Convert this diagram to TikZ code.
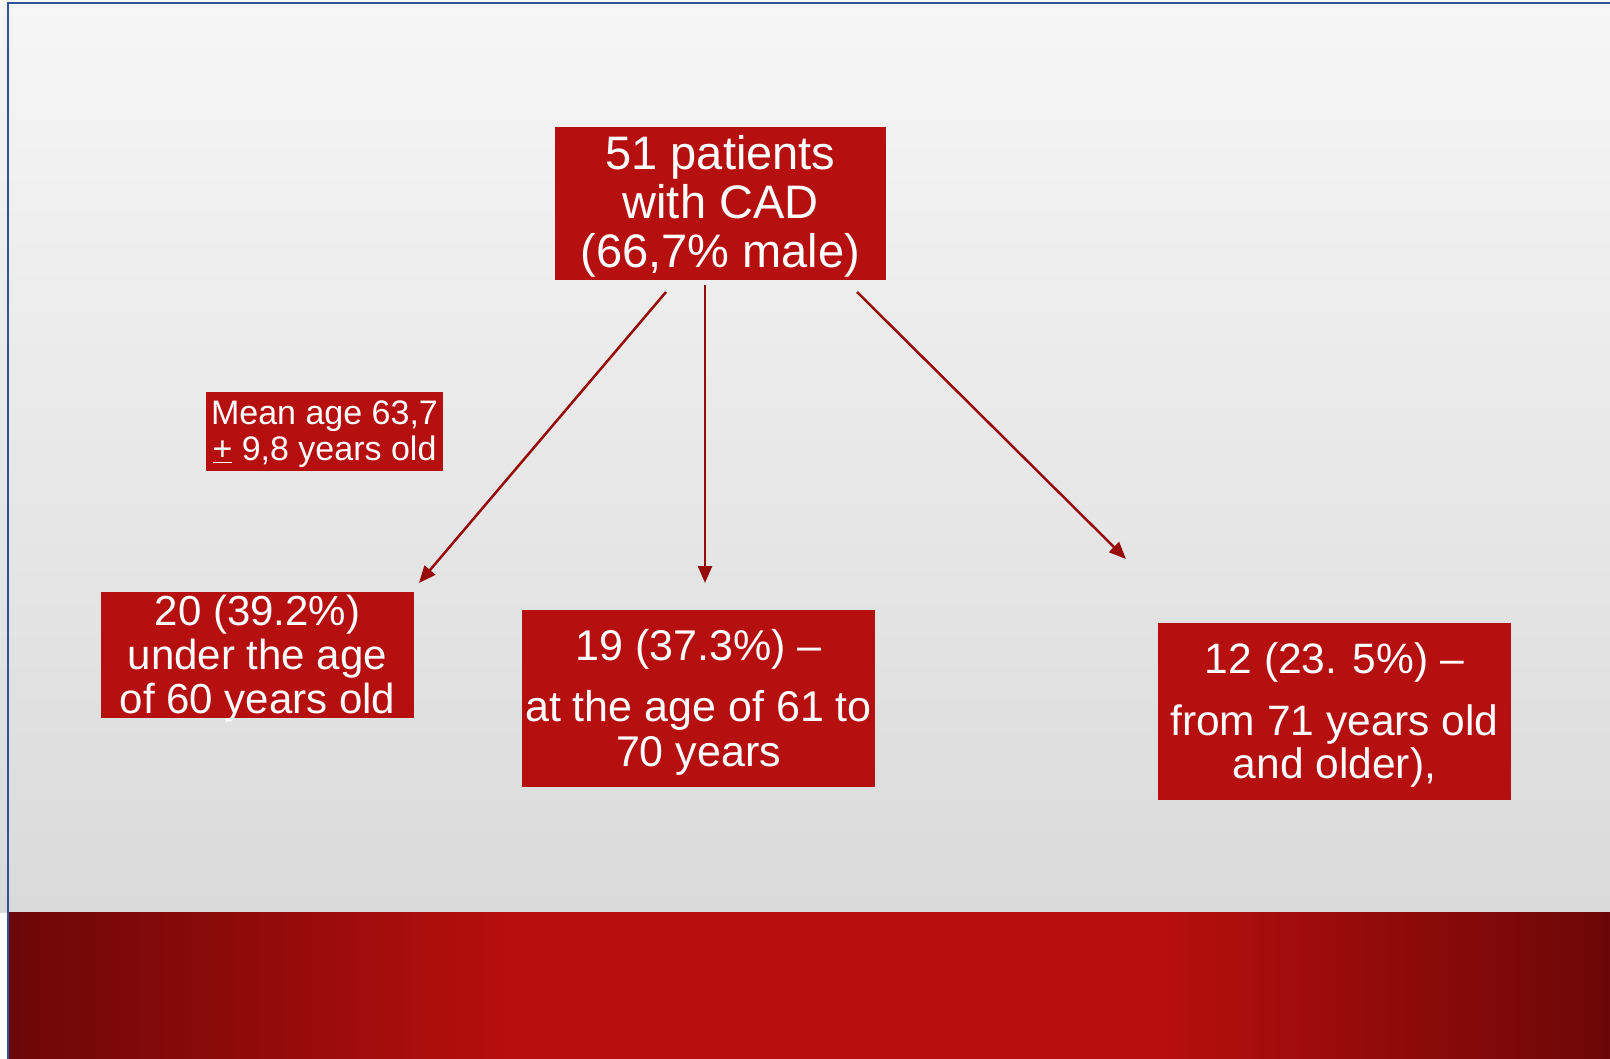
\documentclass[tikz,border=0pt]{standalone}
\usepackage{fontspec}
\setmainfont{Liberation Sans}
\usetikzlibrary{arrows.meta}
\definecolor{boxred}{HTML}{B50F0F}
\definecolor{arrred}{HTML}{960A0A}
\definecolor{banddark}{HTML}{6C0707}
\definecolor{bandmid}{HTML}{B80E0E}
\definecolor{frameblue}{HTML}{2F5496}
\definecolor{bgtop}{HTML}{F6F6F6}
\definecolor{bgbot}{HTML}{DADADA}
\begin{document}
\begin{tikzpicture}[x=1pt,y=-1pt,
  redbox/.style={fill=boxred, inner sep=0pt},
  boxtext/.style={text=white, inner sep=0pt, align=center},
  conn/.style={draw=arrred, line width=2.5pt, -{Triangle[length=17pt,width=14pt]}}]
\useasboundingbox (0,0) rectangle (1610,1059);
% background
\shade[top color=bgtop, bottom color=bgbot] (0,0) rectangle (1610,912);
\fill[left color=banddark, right color=bandmid] (9,912) rectangle (513,1059);
\fill[bandmid] (512,912) rectangle (1161,1059);
\fill[left color=bandmid, right color=banddark] (1160,912) rectangle (1610,1059);
\draw[frameblue, line width=2pt] (8,1059) -- (8,3) -- (1610,3);
% boxes
\node[redbox, minimum width=331pt, minimum height=153pt] (top) at (720.5,203.5) {};
\node[redbox, minimum width=237pt, minimum height=79pt] (mean) at (324.5,431.5) {};
\node[redbox, minimum width=313pt, minimum height=126pt] (left) at (257.5,655) {};
\node[redbox, minimum width=353pt, minimum height=177pt] (mid) at (698.5,698.5) {};
\node[redbox, minimum width=353pt, minimum height=177pt] (right) at (1334.5,711.5) {};
% texts
\node[boxtext, font=\fontsize{47}{49}\selectfont] (toptext) at ([yshift=-3pt]top.center) {51 patients\\with CAD\\(66,7\% male)};
\node[boxtext, font=\fontsize{34}{36}\selectfont] (meantext) at ([yshift=-3pt]mean.center) {Mean age 63,7\\\underline{+} 9,8 years old};
\node[boxtext, font=\fontsize{42}{44}\selectfont] (lefttext) at ([yshift=-4pt]left.center) {20 (39.2\%)\\under the age\\of 60 years old};
\node[boxtext, font=\fontsize{43}{45}\selectfont] (midtext) at ([yshift=-3.5pt]mid.center) {19 (37.3\%) --\\[16pt]at the age of 61 to\\70 years};
\node[boxtext, font=\fontsize{42.5}{43}\selectfont] (righttext) at ([yshift=-3.5pt]right.center) {12 (23. 5\%) --\\[19pt]from 71 years old\\and older),};
% connectors
\coordinate (s1) at (666,292);
\coordinate (t1) at (419,583);
\coordinate (s2) at (705,285);
\coordinate (t2) at (705,583);
\coordinate (s3) at (857,292);
\coordinate (t3) at (1126,559);
\draw[conn] (s1) -- (t1);
\draw[conn] (s2) -- (t2);
\draw[conn] (s3) -- (t3);
\end{tikzpicture}
\end{document}
